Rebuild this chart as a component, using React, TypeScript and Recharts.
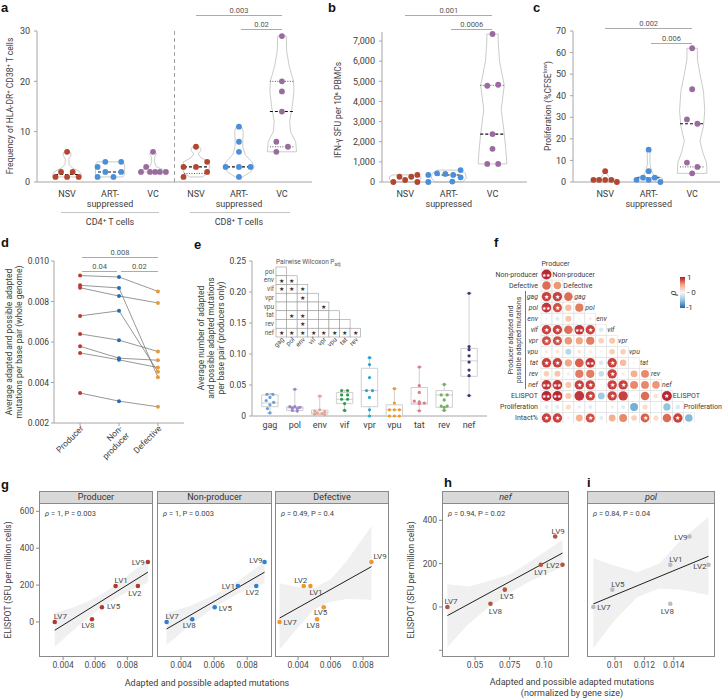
import React from "react";
import { ScatterChart, Scatter, XAxis, YAxis, ReferenceLine } from "recharts";

const FONT = "Roboto, 'Open Sans', Arial, sans-serif";
const INK = "#3d3d3d";
const AXIS = "#a6a6a6";

// ---------- a: HLA-DR+ CD38+ frequency ----------
const aLabels = ["NSV", "ART-|suppressed", "VC", "NSV", "ART-|suppressed", "VC"];
const groupColors = ["#b4452f", "#4b8fd8", "#9a6b9f"];
const aValues = [
  [1, 2, 6, 1, 2, 1],
  [3, 1, 4, 2, 1, 4, 2],
  [2, 3, 6, 2, 2, 2, 2],
  [1, 3, 7, 3, 4, 2],
  [3, 11, 8, 6, 3, 1, 3],
  [29, 20, 18, 14, 8, 7, 6],
];
// horizontal spread of the dots in each group (beeswarm layout)
const aSpread = [
  [-0.27, -0.14, 0, 0, 0.13, 0.27],
  [-0.29, -0.29, -0.11, -0.11, 0.08, 0.26, 0.26],
  [-0.28, -0.16, 0, -0.07, 0.05, 0.16, 0.3],
  [-0.29, -0.29, 0, 0, 0.26, 0.26],
  [-0.31, 0, 0, 0, 0, 0, 0.27],
  [0, 0, 0, 0, -0.13, 0.14, -0.13],
];
// violin outlines: [value, half width]
const aViolins = [
  [[1, 0.33], [1.6, 0.33], [2.2, 0.27], [2.8, 0.12], [3.5, 0.05], [4.5, 0.04], [5.3, 0.09], [5.8, 0.09], [6, 0.05]],
  [[1, 0.3], [1.5, 0.34], [3.5, 0.34], [4, 0.3]],
  [[2, 0.33], [2.5, 0.22], [3, 0.08], [4, 0.03], [5, 0.04], [5.6, 0.08], [6, 0.05]],
  [[1, 0.15], [1.8, 0.28], [3, 0.32], [4, 0.29], [4.8, 0.12], [5.6, 0.05], [6.3, 0.12], [7, 0.08]],
  [[1, 0.08], [2, 0.27], [3, 0.36], [4, 0.3], [5.5, 0.14], [7, 0.09], [8.5, 0.09], [10, 0.1], [11, 0.06]],
  [[6, 0.34], [8, 0.32], [10, 0.2], [12, 0.18], [15, 0.24], [18, 0.28], [20, 0.27], [23, 0.17], [26, 0.11], [29, 0.1]],
];
const aMedians = [1.5, 2, null, 3, 3, 14];
const aQuartiles = [[], [], [], [1.7], [], [20, 7]];

// ---------- b: IFN-gamma ELISPOT ----------
const bLabels = ["NSV", "ART-|suppressed", "VC"];
const bValues = [
  [0, 260, 100, 260, 350, 0],
  [350, 0, 430, 400, 20, 350, 590, 230],
  [7350, 4780, 4830, 2380, 1650, 900, 900],
];
const bSpread = [
  [-0.27, -0.13, 0, 0.14, 0.28, 0.28],
  [-0.47, -0.47, -0.27, -0.08, 0.08, 0.1, 0.27, 0.27],
  [0, -0.12, 0.13, 0, 0, -0.12, 0.13],
];
const bViolins = [
  [[0, 0.3], [120, 0.36], [260, 0.36], [350, 0.28]],
  [[0, 0.32], [200, 0.4], [430, 0.38], [590, 0.25]],
  [[900, 0.33], [1500, 0.31], [2400, 0.27], [3600, 0.2], [4800, 0.27], [6000, 0.16], [7000, 0.13], [7350, 0.13]],
];
const bMedians = [null, 350, 2380];
const bQuartiles = [[], [], [4800]];

// ---------- c: proliferation ----------
const cValues = [
  [1, 1, 5, 1, 1, 0],
  [1, 2, 15, 5, 1, 2, 0],
  [62, 43, 29, 27, 9, 7, 4],
];
const cSpread = [
  [-0.27, -0.14, 0, 0, 0.14, 0.27],
  [-0.28, -0.13, 0, 0, 0, 0.14, 0.27],
  [0, 0, -0.12, 0.12, -0.12, 0.12, 0],
];
const cViolins = [
  [[0, 0.28], [1, 0.3], [2, 0.1], [4, 0.03], [5, 0.03]],
  [[0, 0.25], [1, 0.33], [2, 0.3], [3, 0.12], [5, 0.07], [8, 0.03], [12, 0.03], [15, 0.04]],
  [[4, 0.34], [9, 0.33], [14, 0.24], [19, 0.18], [26, 0.26], [33, 0.29], [42, 0.26], [50, 0.18], [57, 0.12], [62, 0.12]],
];
const cMedians = [null, 2, 27];
const cQuartiles = [[], [], [7]];

// ---------- d: paired whole-genome mutation rate ----------
const dGroups = ["Producer", "Non-|producer", "Defective"];
const dColors = ["#c0392b", "#2c6cb0", "#e39b40"];
const dProducer = [0.00928, 0.0088, 0.00868, 0.00729, 0.0064, 0.00579, 0.00546, 0.00348];
const dNonProducer = [0.00921, 0.00867, 0.00827, 0.00754, 0.00609, 0.0052, 0.00512, 0.00308];
const dDefective = [0.0085, 0.00426, 0.00793, 0.00453, 0.00553, 0.0051, 0.00474, 0.0028];

// ---------- e: per-gene mutation rate (producers) ----------
const eGenes = ["gag", "pol", "env", "vif", "vpr", "vpu", "tat", "rev", "nef"];
const eColors = ["#6a9fd8", "#9a86c9", "#e6a591", "#2f9a4e", "#27a6d4", "#f39a1e", "#e0788a", "#6fb05f", "#3a3977"];
const ePoints = [
  [0.035, 0.035, 0.03, 0.025, 0.022, 0.018, 0.012, 0.005],
  [0.043, 0.015, 0.015, 0.014, 0.013, 0.012, 0.009, 0.008],
  [0.032, 0.01, 0.008, 0.007, 0.005, 0.004, 0.003, 0.002],
  [0.041, 0.041, 0.034, 0.034, 0.027, 0.027, 0.02, 0.009],
  [0.094, 0.083, 0.062, 0.041, 0.041, 0.03, 0.01, 0],
  [0.044, 0.021, 0.01, 0.01, 0.01, 0, 0, 0],
  [0.079, 0.049, 0.038, 0.024, 0.023, 0.021, 0.02, 0.0085],
  [0.051, 0.034, 0.034, 0.026, 0.016, 0.016, 0.014, 0.009],
  [0.198, 0.112, 0.107, 0.097, 0.087, 0.074, 0.065, 0.033],
];
const eSpread = [
  [-0.12, 0.12, 0, -0.15, 0.15, 0, -0.1, 0],
  [0, -0.2, 0, 0.2, -0.1, 0.1, -0.1, 0.1],
  [0, 0, -0.2, 0.2, -0.1, 0.1, -0.2, 0.2],
  [-0.12, 0.12, -0.12, 0.12, -0.12, 0.12, 0, 0],
  [0, 0, 0, -0.12, 0.12, 0, 0, 0],
  [0, 0, -0.2, 0, 0.2, -0.2, 0, 0.2],
  [0, 0, 0, -0.2, 0, 0.2, 0, 0],
  [0, -0.12, 0.12, 0, -0.12, 0.12, 0, 0],
  [0, 0, 0, 0, 0, 0, 0, 0],
];
// [whisker low, q1, median, q3, whisker high]
const eStats = [
  [0.005, 0.015, 0.021, 0.034, 0.036],
  [0.008, 0.009, 0.013, 0.015, 0.043],
  [0.002, 0.003, 0.005, 0.0095, 0.032],
  [0.009, 0.02, 0.027, 0.038, 0.041],
  [0, 0.015, 0.041, 0.077, 0.094],
  [0, 0, 0.01, 0.018, 0.044],
  [0.0085, 0.019, 0.021, 0.046, 0.079],
  [0.009, 0.014, 0.034, 0.041, 0.051],
  [0.033, 0.064, 0.089, 0.109, 0.198],
];
const wxRows = ["pol", "env", "vif", "vpr", "vpu", "tat", "rev", "nef"];
const wxCols = ["gag", "pol", "env", "vif", "vpr", "vpu", "tat", "rev"];
const wxStars = [
  [0],
  [1, 1],
  [1, 1, 1],
  [0, 0, 1, 0],
  [0, 0, 0, 0, 1],
  [0, 1, 1, 0, 0, 0],
  [0, 0, 1, 0, 0, 0, 0],
  [1, 1, 1, 1, 1, 1, 1, 1],
];

// ---------- f: correlation matrix ----------
const fVars = ["Producer", "Non-producer", "Defective", "gag", "pol", "env", "vif", "vpr", "vpu", "tat", "rev", "nef", "ELISPOT", "Proliferation", "Intact%"];
const fGenes = ["gag", "pol", "env", "vif", "vpr", "vpu", "tat", "rev", "nef"];
const fRho = [
  [],
  [0.95],
  [0.7, 0.55],
  [0.85, 0.85, 0.7],
  [0.9, 0.8, 0.4, 0.65],
  [0.05, -0.15, 0.35, 0.05, 0.1],
  [0.85, 0.85, 0.7, 0.9, 0.85, -0.2],
  [0.8, 0.8, 0.55, 0.5, 0.65, 0.3, 0.35],
  [0.12, 0.15, -0.35, 0.15, 0.12, 0.05, 0.3, 0.3],
  [0.85, 0.85, 0.5, 0.75, 0.9, -0.2, 0.85, 0.4, 0.05],
  [0.3, 0.35, 0.1, 0.65, 0.65, -0.3, 0.85, 0.1, 0.45, 0.6],
  [0.9, 0.9, 0.35, 0.85, 0.85, 0.02, 0.85, 0.85, 0.6, 0.6, 0.55],
  [0.95, 0.95, 0.35, 0.9, 0.85, -0.45, 0.85, 0.85, 0.05, 0.7, 0.2, 0.95],
  [-0.15, -0.15, 0.25, -0.1, -0.15, 0.0, 0.1, -0.15, -0.6, 0.25, 0.0, -0.5, -0.2],
  [0.85, 0.85, 0.1, 0.45, 0.8, -0.15, 0.45, 0.6, 0.3, 0.75, 0.25, 0.7, 0.85, -0.55],
];
const fStars = [
  [],
  [2],
  [0, 0],
  [1, 1, 0],
  [2, 1, 0, 0],
  [0, 0, 0, 0, 0],
  [1, 1, 0, 2, 1, 0],
  [1, 1, 0, 0, 0, 0, 0],
  [0, 0, 0, 0, 0, 0, 0, 0],
  [1, 1, 0, 0, 2, 0, 1, 0, 0],
  [0, 0, 0, 0, 0, 0, 1, 0, 0, 0],
  [2, 2, 0, 1, 1, 0, 1, 1, 0, 0, 0],
  [2, 2, 0, 0, 1, 0, 1, 0, 0, 0, 0, 1],
  [0, 0, 0, 0, 0, 0, 0, 0, 0, 0, 0, 0, 0],
  [1, 1, 0, 0, 1, 0, 0, 0, 0, 1, 0, 0, 1, 0],
];

// ---------- g-i: ELISPOT vs mutations ----------
const lvNames = ["LV1", "LV2", "LV5", "LV7", "LV8", "LV9"];
const elispot = [195, 195, 80, 0, 15, 325];
const gProducerX = [0.00727, 0.00866, 0.00642, 0.00348, 0.0058, 0.00928];
const gNonProducerX = [0.00744, 0.00855, 0.00604, 0.00313, 0.00468, 0.00905];
const gDefectiveX = [0.00476, 0.00435, 0.00558, 0.00286, 0.00517, 0.00852];
const hNefX = [0.0976, 0.1133, 0.0715, 0.0299, 0.0611, 0.108];
const iPolX = [0.01376, 0.01636, 0.00982, 0.00853, 0.01376, 0.01507];
// fitted line end points
const gProducerFit = [[0.00348, -45], [0.00928, 270]];
const gNonProducerFit = [[0.00313, -38], [0.00905, 270]];
const gDefectiveFit = [[0.00286, 21], [0.00852, 300]];
const hNefFit = [[0.0299, -40], [0.1133, 249]];
const iPolFit = [[0.00853, 14], [0.01636, 234]];
// confidence band: [x, low, high]
const gProducerBand = [[0.00348, -135, 50], [0.0045, -55, 75], [0.0055, 20, 110], [0.0065, 85, 155], [0.0075, 140, 215], [0.0085, 185, 285], [0.00928, 212, 330]];
const gNonProducerBand = [[0.00313, -125, 50], [0.0045, -20, 85], [0.006, 80, 145], [0.0075, 155, 225], [0.0085, 190, 290], [0.00905, 210, 330]];
const gDefectiveBand = [[0.00286, -150, 210], [0.004, -30, 190], [0.005, 70, 185], [0.006, 110, 230], [0.007, 125, 330], [0.00852, 120, 520]];
const hNefBand = [[0.0299, -185, 105], [0.045, -80, 95], [0.06, 0, 120], [0.075, 65, 150], [0.09, 120, 210], [0.1133, 185, 310]];
const iPolBand = [[0.00853, -190, 225], [0.01, -60, 190], [0.0115, 45, 160], [0.013, 85, 200], [0.0145, 80, 310], [0.01636, 55, 414]];

// label placement for the LV names: [dx, dy, anchor]
const gProducerLbl: any = { LV7: [-1, -3, "start"], LV8: [-4, 9, "middle"], LV5: [5, 2, "start"], LV1: [-1, -3, "start"], LV2: [-3, 10, "middle"], LV9: [-3, 3, "end"] };
const gNonProducerLbl: any = { LV7: [-1, -3, "start"], LV8: [-3, 9, "middle"], LV5: [4, 4, "start"], LV1: [-3, 3, "end"], LV2: [-4, 9, "middle"], LV9: [-2, 1, "end"] };
const gDefectiveLbl: any = { LV7: [4, 3, "start"], LV2: [-3, -3, "middle"], LV1: [-1, 9, "start"], LV8: [-4, 9, "middle"], LV5: [-3, 8, "middle"], LV9: [2, -3, "start"] };
const hNefLbl: any = { LV7: [-3, -3, "start"], LV8: [5, 10, "middle"], LV5: [2, 9, "middle"], LV1: [0, 10, "middle"], LV2: [-3, 3, "end"], LV9: [3, -3, "middle"] };
const iPolLbl: any = { LV7: [4, 3, "start"], LV5: [-1, -3, "start"], LV1: [-1, -3, "start"], LV8: [-3, 10, "middle"], LV9: [-2, 3, "end"], LV2: [-2, 4, "end"] };

// ---------- helpers ----------
const blank = () => <g />;
const dot = (r: number, fill: string) => (p: any) => <circle cx={p.cx} cy={p.cy} r={r} fill={fill} />;
const lin = (d0: number, d1: number, p0: number, p1: number) => (v: number) => p0 + ((v - d0) / (d1 - d0)) * (p1 - p0);

function frame(x0: number, y0: number, x1: number, y1: number, yw: number, xh: number, mt = 6, mr = 6) {
  return {
    left: x0 - yw,
    top: y0 - mt,
    width: yw + (x1 - x0) + mr,
    height: mt + (y1 - y0) + xh,
    margin: { top: mt, right: mr, bottom: 0, left: 0 },
    yw,
  };
}

function outline(prof: number[][], c: number) {
  const right = prof.map(([v, w]) => ({ x: c + w, y: v }));
  const left = prof.slice().reverse().map(([v, w]) => ({ x: c - w, y: v }));
  return [...right, ...left, right[0]];
}
const seg = (c: number, v: number, hw: number) => [{ x: c - hw, y: v }, { x: c + hw, y: v }];

const catTick = (labels: string[], size = 9) => (p: any) => {
  const lines = (labels[Math.round(p.payload.value) - 1] || "").split("|");
  return (
    <text x={p.x} y={p.y} textAnchor="middle" fontSize={size} fill={INK}>
      {lines.map((l, i) => (
        <tspan key={i} x={p.x} dy={i === 0 ? 8 : 10}>{l}</tspan>
      ))}
    </text>
  );
};

const rotTick = (labels: string[], size: number, dx: number, dy: number, base = 1) => (p: any) => {
  const lines = (labels[Math.round(p.payload.value) - base] || "").split("|");
  return (
    <g transform={`translate(${p.x + dx},${p.y + dy}) rotate(-45)`}>
      <text textAnchor="end" fontSize={size} fill={INK}>
        {lines.map((l, i) => (
          <tspan key={i} x={0} dy={i === 0 ? 0 : size * 1.15}>{l}</tspan>
        ))}
      </text>
    </g>
  );
};

function Txt({ x, y, children, size = 8.5, anchor = "start", style = {} }: any) {
  const tx = anchor === "middle" ? "-50%" : anchor === "end" ? "-100%" : "0";
  return (
    <div style={{ position: "absolute", left: x, top: y, transform: `translate(${tx}, -50%)`, fontSize: size, lineHeight: 1.15, whiteSpace: "nowrap", color: INK, ...style }}>
      {children}
    </div>
  );
}

function VTxt({ x, y, children, size = 8.5, style = {} }: any) {
  return (
    <div style={{ position: "absolute", left: x, top: y, transform: "translate(-50%, -50%) rotate(-90deg)", fontSize: size, lineHeight: 1.2, whiteSpace: "nowrap", textAlign: "center", color: INK, ...style }}>
      {children}
    </div>
  );
}

function Letter({ x, y, children }: any) {
  return (
    <div style={{ position: "absolute", left: x, top: y, fontSize: 13, fontWeight: 700, lineHeight: 1, color: "#111", fontFamily: "Arial, 'Liberation Sans', sans-serif" }}>
      {children}
    </div>
  );
}

function Sig({ x1, x2, y, label }: any) {
  return (
    <>
      <div style={{ position: "absolute", left: x1, top: y, width: x2 - x1, height: 0, borderTop: "1px solid #ababab" }} />
      <Txt x={(x1 + x2) / 2} y={y - 4.5} size={7.5} anchor="middle" style={{ color: "#555" }}>{label}</Txt>
    </>
  );
}

function ViolinChart({ fr, xDomain, labels, yDomain, yTicks, yFmt, colors, values, spread, violins, medians, quartiles, extra }: any) {
  return (
    <div style={{ position: "absolute", left: fr.left, top: fr.top }}>
      <ScatterChart width={fr.width} height={fr.height} margin={fr.margin}>
        <XAxis type="number" dataKey="x" domain={xDomain} ticks={labels.map((_: any, i: number) => i + 1)} interval={0}
          tick={catTick(labels)} tickLine={false} tickSize={3} tickMargin={4} axisLine={{ stroke: AXIS }} height={34} />
        <YAxis type="number" dataKey="y" domain={yDomain} ticks={yTicks} interval={0} tickFormatter={yFmt} width={fr.yw}
          tick={{ fontSize: 9, fill: INK }} tickSize={3} tickMargin={4} axisLine={{ stroke: AXIS }} tickLine={{ stroke: AXIS }} />
        {extra}
        {violins.map((prof: number[][], i: number) => (
          <Scatter key={`v${i}`} data={outline(prof, i + 1)} line={{ stroke: "#b5b5b5", strokeWidth: 0.7 }} shape={blank} isAnimationActive={false} />
        ))}
        {medians.map((m: any, i: number) =>
          m == null ? null : (
            <Scatter key={`m${i}`} data={seg(i + 1, m, 0.28)} line={{ stroke: "#111", strokeWidth: 1.1, strokeDasharray: "3 2" }} shape={blank} isAnimationActive={false} />
          )
        )}
        {quartiles.map((qs: number[], i: number) =>
          qs.map((q, j) => (
            <Scatter key={`q${i}-${j}`} data={seg(i + 1, q, 0.28)} line={{ stroke: "#444", strokeWidth: 0.9, strokeDasharray: "1 1.5" }} shape={blank} isAnimationActive={false} />
          ))
        )}
        {values.map((vals: number[], i: number) => (
          <Scatter key={`p${i}`} data={vals.map((v, k) => ({ x: i + 1 + spread[i][k], y: v }))} shape={dot(2.9, colors[i])} isAnimationActive={false} />
        ))}
      </ScatterChart>
    </div>
  );
}

const labelled = (color: string, lbl: any) => (p: any) => {
  const [dx, dy, anchor] = lbl[p.payload.n] || [4, 3, "start"];
  return (
    <g>
      <circle cx={p.cx} cy={p.cy} r={2.3} fill={color} />
      <text x={p.cx + dx} y={p.cy + dy} textAnchor={anchor} fontSize={8} fill="#4a4a4a">{p.payload.n}</text>
    </g>
  );
};

function Facet({ x0, x1, title, italic, xDomain, xTicks, xFmt, yDomain, yTicks, yw, xs, color, fit, band, lbl, note }: any) {
  const y0 = 503;
  const y1 = 657;
  const fr = frame(x0, y0, x1, y1, yw, 18, 4, 4);
  const pts = lvNames.map((n, k) => ({ x: xs[k], y: elispot[k], n }));
  const poly = [
    ...band.map((b: number[]) => ({ x: b[0], y: b[2] })),
    ...band.slice().reverse().map((b: number[]) => ({ x: b[0], y: b[1] })),
  ];
  return (
    <>
      <div style={{ position: "absolute", left: x0, top: 491, width: x1 - x0, height: 12, boxSizing: "border-box", background: "#d9d9d9", border: "1px solid #8a8a8a", borderBottom: "none", fontSize: 9, lineHeight: "11px", textAlign: "center", color: "#333", fontStyle: italic ? "italic" : "normal" }}>
        {title}
      </div>
      <div style={{ position: "absolute", left: fr.left, top: fr.top }}>
        <ScatterChart width={fr.width} height={fr.height} margin={fr.margin}>
          <XAxis type="number" dataKey="x" domain={xDomain} ticks={xTicks} interval={0} tickFormatter={xFmt}
            tick={{ fontSize: 8.5, fill: "#4d4d4d" }} tickSize={3} tickMargin={2} tickLine={{ stroke: "#8a8a8a" }} axisLine={false} height={18} />
          <YAxis type="number" dataKey="y" domain={yDomain} ticks={yTicks} interval={0} hide={!yw} width={yw || 0}
            tickFormatter={(v: number) => (v < 0 ? "" : String(v))}
            tick={{ fontSize: 8.5, fill: "#4d4d4d" }} tickSize={3} tickMargin={2} tickLine={{ stroke: "#8a8a8a" }} axisLine={false} />
          <Scatter data={poly} line={{ fill: "#f0f0f0", stroke: "none" }} shape={blank} isAnimationActive={false} />
          <Scatter data={fit.map((f: number[]) => ({ x: f[0], y: f[1] }))} line={{ stroke: "#1f1f1f", strokeWidth: 1 }} shape={blank} isAnimationActive={false} />
          <Scatter data={pts} shape={labelled(color, lbl)} isAnimationActive={false} />
        </ScatterChart>
      </div>
      <div style={{ position: "absolute", left: x0, top: y0, width: x1 - x0, height: y1 - y0, boxSizing: "border-box", border: "1px solid #8a8a8a", pointerEvents: "none" }} />
      <Txt x={x0 + 6} y={514} size={7.5} style={{ color: "#444" }}>{note}</Txt>
    </>
  );
}

// RdBu colour scale for rho
const rdbuStops: [number, number[]][] = [
  [-1, [33, 102, 172]], [-0.75, [67, 147, 195]], [-0.5, [146, 197, 222]], [-0.25, [209, 229, 240]], [0, [247, 247, 247]],
  [0.25, [253, 219, 199]], [0.5, [244, 165, 130]], [0.75, [214, 96, 77]], [1, [178, 24, 43]],
];
function rdbu(v: number) {
  for (let i = 0; i < rdbuStops.length - 1; i++) {
    const [a, ca] = rdbuStops[i];
    const [b, cb] = rdbuStops[i + 1];
    if (v <= b) {
      const t = (v - a) / (b - a);
      const c = ca.map((x, k) => Math.round(x + (cb[k] - x) * t));
      return `rgb(${c[0]},${c[1]},${c[2]})`;
    }
  }
  return "rgb(178,24,43)";
}

const CELL_W = 10.95;
const CELL_H = 10.9;
const corrCell = (p: any) => {
  const r = 5.1 * Math.sqrt(Math.abs(p.payload.r));
  const s = p.payload.s;
  return (
    <g>
      <rect x={p.cx - CELL_W / 2} y={p.cy - CELL_H / 2} width={CELL_W} height={CELL_H} fill="none" stroke="#e2e2e2" strokeWidth={0.6} />
      <circle cx={p.cx} cy={p.cy} r={r} fill={rdbu(p.payload.r)} />
      {s ? (
        <text x={p.cx} y={p.cy + 2.2} textAnchor="middle" fontSize={s === 2 ? 5 : 6} fill="#fff">{s === 2 ? "★★" : "★"}</text>
      ) : null}
    </g>
  );
};
const diagLabel = (p: any) => {
  const n = p.payload.n;
  return (
    <text x={p.cx - 5} y={p.cy + 2.5} fontSize={7} fill={INK} fontStyle={fGenes.includes(n) ? "italic" : "normal"}>{n}</text>
  );
};
const fTick = (p: any) => {
  const n = fVars[Math.round(p.payload.value)];
  return (
    <text x={p.x} y={p.y + 2.5} textAnchor="end" fontSize={7} fill={INK} fontStyle={fGenes.includes(n) ? "italic" : "normal"}>{n}</text>
  );
};

const wxCell = (p: any) => (
  <g>
    <rect x={p.cx - 5.29} y={p.cy - 4.375} width={10.58} height={8.75} fill="#fff" stroke="#9a9a9a" strokeWidth={0.6} />
    {p.payload.s ? (
      <text x={p.cx} y={p.cy + 2.4} textAnchor="middle" fontSize={6.5} fill="#333">★</text>
    ) : null}
  </g>
);

export default function App() {
  const ax = lin(0.3, 6.7, 37, 312);
  const bx = lin(0.47, 3.79, 382, 527);
  const cxs = lin(0.26, 3.64, 573, 720);
  const dxs = lin(0.33, 3.67, 54, 184);

  const aFr = frame(37, 31, 312, 182, 25, 34);
  const bFr = frame(382, 32, 527, 182, 30, 34);
  const cFr = frame(573, 31, 720, 182, 20, 34, 6, 2);
  const dFr = frame(54, 261, 184, 423, 30, 45);
  const eFr = frame(252, 261, 487, 416, 28, 20);
  const wxFr = frame(276, 267.3, 360.7, 337.3, 22, 24, 2, 2);
  const fFr = frame(541.2, 257.55, 694.5, 421.05, 52, 2, 2, 30);

  const dLines = dProducer.map((v, i) => [
    { x: 1, y: v },
    { x: 2, y: dNonProducer[i] },
    { x: 3, y: dDefective[i] },
  ]);

  const wxData = wxStars.flatMap((row, r) => row.map((s, c) => ({ x: c, y: r, s })));
  const fCells = fRho.flatMap((row, i) => row.map((r, j) => ({ x: j, y: i, r, s: fStars[i][j] })));
  const fDiag = fVars.slice(0, 14).map((n, i) => ({ x: i, y: i, n }));

  return (
    <div style={{ position: "absolute", left: 0, top: 0, width: 722, height: 698, overflow: "hidden", background: "#fff", fontFamily: FONT, color: INK }}>
      {/* ---------- a ---------- */}
      <Letter x={1} y={1}>a</Letter>
      <ViolinChart fr={aFr} xDomain={[0.3, 6.7]} labels={aLabels} yDomain={[0, 30]} yTicks={[0, 10, 20, 30]}
        colors={[0, 1, 2, 0, 1, 2].map((k) => groupColors[k])} values={aValues} spread={aSpread} violins={aViolins}
        medians={aMedians} quartiles={aQuartiles}
        extra={<ReferenceLine x={3.5} stroke="#a0a0a0" strokeDasharray="4 3" />} />
      <VTxt x={10} y={106} size={8.5}>Frequency of HLA-DR⁺ CD38⁺ T cells</VTxt>
      <Sig x1={ax(4)} x2={ax(6)} y={15} label="0.003" />
      <Sig x1={ax(5.05)} x2={ax(6)} y={29} label="0.02" />
      <div style={{ position: "absolute", left: ax(0.85), top: 212, width: ax(3.15) - ax(0.85), borderTop: "1.5px solid #c4c4c4" }} />
      <div style={{ position: "absolute", left: ax(3.86), top: 212, width: ax(6.18) - ax(3.86), borderTop: "1.5px solid #c4c4c4" }} />
      <Txt x={ax(2)} y={222} size={9} anchor="middle">CD4⁺ T cells</Txt>
      <Txt x={ax(5)} y={222} size={9} anchor="middle">CD8⁺ T cells</Txt>

      {/* ---------- b ---------- */}
      <Letter x={328} y={1}>b</Letter>
      <ViolinChart fr={bFr} xDomain={[0.47, 3.79]} labels={bLabels} yDomain={[0, 7450]}
        yTicks={[0, 1000, 2000, 3000, 4000, 5000, 6000, 7000]} yFmt={(v: number) => v.toLocaleString("en-US")}
        colors={groupColors} values={bValues} spread={bSpread} violins={bViolins} medians={bMedians} quartiles={bQuartiles} />
      <VTxt x={338} y={110} size={8.5}>IFN-γ SFU per 10⁶ PBMCs</VTxt>
      <Sig x1={bx(1)} x2={bx(3)} y={15} label="0.001" />
      <Sig x1={bx(2.05)} x2={bx(3)} y={29} label="0.0006" />

      {/* ---------- c ---------- */}
      <Letter x={533} y={1}>c</Letter>
      <ViolinChart fr={cFr} xDomain={[0.26, 3.64]} labels={bLabels} yDomain={[0, 70]}
        yTicks={[0, 10, 20, 30, 40, 50, 60, 70]} colors={groupColors} values={cValues} spread={cSpread}
        violins={cViolins} medians={cMedians} quartiles={cQuartiles} />
      <VTxt x={547} y={106} size={8.5}>Proliferation (%CFSE<sup style={{ fontSize: 6 }}>low</sup>)</VTxt>
      <Sig x1={cxs(1)} x2={cxs(3)} y={28} label="0.002" />
      <Sig x1={cxs(2.05)} x2={cxs(3)} y={43} label="0.006" />

      {/* ---------- d ---------- */}
      <Letter x={1} y={236}>d</Letter>
      <div style={{ position: "absolute", left: dFr.left, top: dFr.top }}>
        <ScatterChart width={dFr.width} height={dFr.height} margin={dFr.margin}>
          <XAxis type="number" dataKey="x" domain={[0.33, 3.67]} ticks={[1, 2, 3]} interval={0}
            tick={rotTick(dGroups, 8.5, 4, 3)} tickSize={3} tickMargin={0} tickLine={{ stroke: AXIS }} axisLine={{ stroke: AXIS }} height={45} />
          <YAxis type="number" dataKey="y" domain={[0.002, 0.01]} ticks={[0.002, 0.004, 0.006, 0.008, 0.01]} interval={0}
            tickFormatter={(v: number) => v.toFixed(3)} width={30} tick={{ fontSize: 8.5, fill: INK }} tickSize={3} tickMargin={2}
            axisLine={{ stroke: AXIS }} tickLine={{ stroke: AXIS }} />
          {dLines.map((pts, i) => (
            <Scatter key={i} data={pts} line={{ stroke: "#6b6b6b", strokeWidth: 0.7 }}
              shape={(p: any) => <circle cx={p.cx} cy={p.cy} r={2} fill={dColors[p.payload.x - 1]} />} isAnimationActive={false} />
          ))}
        </ScatterChart>
      </div>
      <VTxt x={14} y={342} size={8.5}>Average adapted and possible adapted<br />mutations per base pair (whole genome)</VTxt>
      <Sig x1={dxs(1.05)} x2={dxs(3)} y={257} label="0.008" />
      <Sig x1={dxs(1.05)} x2={dxs(1.95)} y={271} label="0.04" />
      <Sig x1={dxs(2.05)} x2={dxs(3)} y={271} label="0.02" />

      {/* ---------- e ---------- */}
      <Letter x={194} y={238}>e</Letter>
      <div style={{ position: "absolute", left: eFr.left, top: eFr.top }}>
        <ScatterChart width={eFr.width} height={eFr.height} margin={eFr.margin}>
          <XAxis type="number" dataKey="x" domain={[0.28, 9.72]} ticks={[1, 2, 3, 4, 5, 6, 7, 8, 9]} interval={0}
            tickFormatter={(v: number) => eGenes[v - 1]} tick={{ fontSize: 9, fill: INK }} tickLine={false} tickSize={3} tickMargin={3}
            axisLine={{ stroke: AXIS }} height={20} />
          <YAxis type="number" dataKey="y" domain={[0, 0.25]} ticks={[0, 0.05, 0.1, 0.15, 0.2, 0.25]} interval={0}
            tickFormatter={(v: number) => (v === 0 ? "0" : v.toFixed(2))} width={28} tick={{ fontSize: 8.5, fill: INK }}
            tickSize={3} tickMargin={3} axisLine={{ stroke: AXIS }} tickLine={{ stroke: AXIS }} />
          {eStats.map((st, i) => {
            const c = i + 1;
            const [lo, q1, med, q3, hi] = st;
            return [
              <Scatter key={`w${i}`} data={[{ x: c - 0.1, y: hi }, { x: c + 0.1, y: hi }, { x: c, y: hi }, { x: c, y: lo }, { x: c - 0.1, y: lo }, { x: c + 0.1, y: lo }]}
                line={{ stroke: "#c4c4c4", strokeWidth: 0.8 }} shape={blank} isAnimationActive={false} />,
              <Scatter key={`b${i}`} data={[{ x: c - 0.33, y: q1 }, { x: c + 0.33, y: q1 }, { x: c + 0.33, y: q3 }, { x: c - 0.33, y: q3 }, { x: c - 0.33, y: q1 }]}
                line={{ stroke: "#c4c4c4", strokeWidth: 0.8, fill: "#fff" }} shape={blank} isAnimationActive={false} />,
              <Scatter key={`m${i}`} data={seg(c, med, 0.33)} line={{ stroke: "#c4c4c4", strokeWidth: 0.8 }} shape={blank} isAnimationActive={false} />,
            ];
          })}
          {ePoints.map((vals, i) => (
            <Scatter key={`p${i}`} data={vals.map((v, k) => ({ x: i + 1 + eSpread[i][k], y: v }))} shape={dot(1.6, eColors[i])} isAnimationActive={false} />
          ))}
        </ScatterChart>
      </div>
      <VTxt x={211} y={338} size={8.5}>Average number of adapted<br />and possible adapted mutations<br />per base pair (producers only)</VTxt>
      {/* Wilcoxon inset */}
      <Txt x={276} y={263} size={6.5} style={{ color: "#555" }}>Pairwise Wilcoxon P<sub style={{ fontSize: 4.5 }}>adj</sub></Txt>
      <div style={{ position: "absolute", left: wxFr.left, top: wxFr.top }}>
        <ScatterChart width={wxFr.width} height={wxFr.height} margin={wxFr.margin}>
          <XAxis type="number" dataKey="x" domain={[-0.5, 7.5]} ticks={[0, 1, 2, 3, 4, 5, 6, 7]} interval={0}
            tick={rotTick(wxCols, 6.5, 3, 3, 0)} tickLine={false} axisLine={false} tickSize={0} tickMargin={0} height={24} />
          <YAxis type="number" dataKey="y" domain={[-0.5, 7.5]} reversed ticks={[0, 1, 2, 3, 4, 5, 6, 7]} interval={0}
            tickFormatter={(v: number) => wxRows[v]} tick={{ fontSize: 6.5, fill: "#555" }} tickLine={false} axisLine={false}
            tickSize={0} tickMargin={2} width={22} />
          <Scatter data={wxData} shape={wxCell} isAnimationActive={false} />
        </ScatterChart>
      </div>

      {/* ---------- f ---------- */}
      <Letter x={494} y={236}>f</Letter>
      <div style={{ position: "absolute", left: fFr.left, top: fFr.top }}>
        <ScatterChart width={fFr.width} height={fFr.height} margin={fFr.margin}>
          <XAxis type="number" dataKey="x" domain={[-0.5, 13.5]} hide />
          <YAxis type="number" dataKey="y" domain={[-0.5, 14.5]} reversed ticks={[1, 2, 3, 4, 5, 6, 7, 8, 9, 10, 11, 12, 13, 14]}
            interval={0} tick={fTick} tickLine={false} axisLine={false} tickSize={0} tickMargin={3} width={52} />
          <Scatter data={fCells} shape={corrCell} isAnimationActive={false} />
          <Scatter data={fDiag} shape={diagLabel} isAnimationActive={false} />
        </ScatterChart>
      </div>
      <div style={{ position: "absolute", left: 525, top: 291, height: 98, borderLeft: "1px solid #777" }} />
      <VTxt x={515} y={340} size={7}>Producer adapted and<br />possible adapted mutations</VTxt>
      <div style={{ position: "absolute", left: 680, top: 277, width: 4.5, height: 31, background: "linear-gradient(#b2182b, #f4a582 25%, #f7f7f7 50%, #92c5de 75%, #2166ac)" }} />
      <Txt x={687} y={278} size={8}>1</Txt>
      <Txt x={687} y={293} size={8}>- 0</Txt>
      <Txt x={686} y={308} size={8}>-1</Txt>
      <VTxt x={673} y={293} size={9} style={{ fontStyle: "italic" }}>ρ</VTxt>

      {/* ---------- g ---------- */}
      <Letter x={1} y={478}>g</Letter>
      <Facet x0={39} x1={153} title="Producer" xDomain={[0.0025, 0.0096]} xTicks={[0.004, 0.006, 0.008]} xFmt={(v: number) => v.toFixed(3)}
        yDomain={[-190, 645]} yTicks={[0, 200, 400, 600]} yw={24} xs={gProducerX} color="#b03a2e" fit={gProducerFit}
        band={gProducerBand} lbl={gProducerLbl} note={<><i>ρ</i> = 1, P = 0.003</>} />
      <Facet x0={157} x1={272} title="Non-producer" xDomain={[0.00255, 0.0095]} xTicks={[0.004, 0.006, 0.008]} xFmt={(v: number) => v.toFixed(3)}
        yDomain={[-190, 645]} yTicks={[0, 200, 400, 600]} yw={0} xs={gNonProducerX} color="#2f80d1" fit={gNonProducerFit}
        band={gNonProducerBand} lbl={gNonProducerLbl} note={<><i>ρ</i> = 1, P = 0.003</>} />
      <Facet x0={275} x1={389} title="Defective" xDomain={[0.00258, 0.0096]} xTicks={[0.004, 0.006, 0.008]} xFmt={(v: number) => v.toFixed(3)}
        yDomain={[-190, 645]} yTicks={[0, 200, 400, 600]} yw={0} xs={gDefectiveX} color="#f0962a" fit={gDefectiveFit}
        band={gDefectiveBand} lbl={gDefectiveLbl} note={<><i>ρ</i> = 0.49, P = 0.4</>} />
      <VTxt x={8} y={580} size={8.5}>ELISPOT (SFU per million cells)</VTxt>
      <Txt x={207} y={683} size={9} anchor="middle">Adapted and possible adapted mutations</Txt>

      {/* ---------- h ---------- */}
      <Letter x={444} y={476}>h</Letter>
      <Facet x0={442} x1={569} title="nef" italic xDomain={[0.026, 0.118]} xTicks={[0.05, 0.075, 0.1]}
        xFmt={(v: number) => (v === 0.1 ? "0.10" : String(v))} yDomain={[-231, 480]} yTicks={[-200, 0, 200, 400]} yw={30}
        xs={hNefX} color="#b4553f" fit={hNefFit} band={hNefBand} lbl={hNefLbl} note={<><i>ρ</i> = 0.94, P = 0.02</>} />

      {/* ---------- i ---------- */}
      <Letter x={587} y={476}>i</Letter>
      <Facet x0={587} x1={715} title="pol" italic xDomain={[0.0081, 0.0168]} xTicks={[0.01, 0.012, 0.014]}
        xFmt={(v: number) => String(v)} yDomain={[-231, 480]} yTicks={[-200, 0, 200, 400]} yw={0}
        xs={iPolX} color="#bdbdbd" fit={iPolFit} band={iPolBand} lbl={iPolLbl} note={<><i>ρ</i> = 0.84, P = 0.04</>} />
      <VTxt x={411} y={580} size={8.5}>ELISPOT (SFU per million cells)</VTxt>
      <Txt x={572} y={688} size={9} anchor="middle" style={{ textAlign: "center", lineHeight: 1.2 }}>
        Adapted and possible adapted mutations<br />(normalized by gene size)
      </Txt>
    </div>
  );
}
